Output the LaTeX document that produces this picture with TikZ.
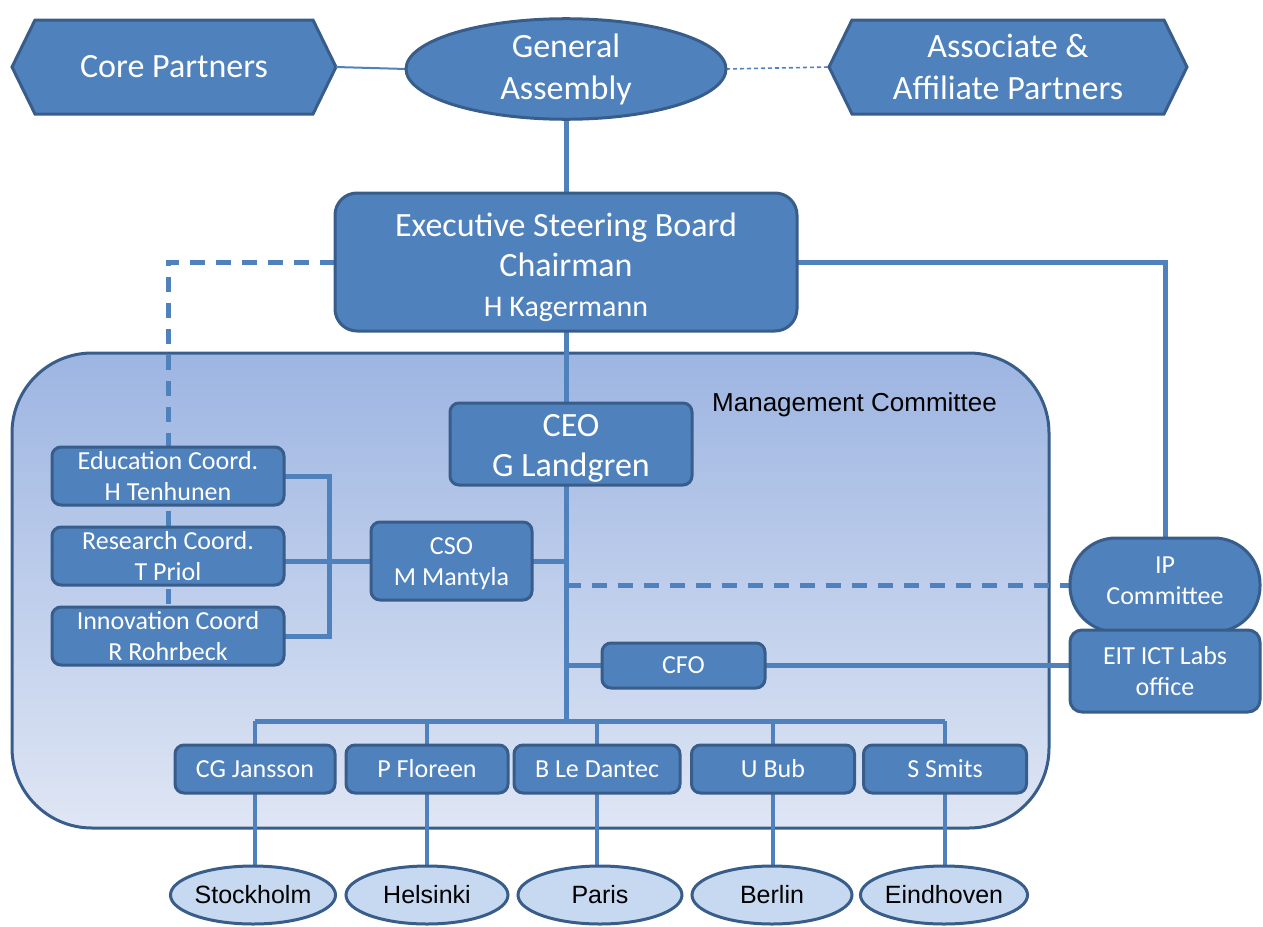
\documentclass[tikz,border=0pt]{standalone}
\usepackage{fontspec}
\setmainfont{Carlito}
\newfontfamily\arialf{Liberation Sans}
\usetikzlibrary{shapes.geometric,calc}
\definecolor{boxfill}{HTML}{4F81BD}
\definecolor{boxline}{HTML}{385D8A}
\definecolor{connc}{HTML}{4F81BD}
\definecolor{cityfill}{HTML}{C6D9F1}
\definecolor{mgtop}{RGB}{157,181,226}
\definecolor{mgbot}{RGB}{223,230,244}
\pgfdeclarelayer{bgl}
\pgfdeclarelayer{conn}
\pgfsetlayers{bgl,conn,main}
\newcommand{\lowr}[2]{\raisebox{#1}[\height][\depth]{#2}}
\tikzset{
  basebox/.style={draw=boxline, line width=3pt, fill=boxfill, text=white, inner sep=0pt, outer sep=0pt, align=center},
  rbox/.style={basebox, rectangle, rounded corners=9pt},
  hexnode/.style={inner sep=0pt, outer sep=0pt, align=center, text=white, minimum height=94pt},
  hexdraw/.style={draw=boxline, line width=3pt, fill=boxfill, line join=miter},
  citynode/.style={draw=boxline, line width=3pt, fill=cityfill, ellipse, inner sep=0pt, outer sep=0pt, minimum width=160pt, minimum height=58pt, font=\arialf\fontsize{25}{28}\selectfont},
  conline/.style={draw=connc, line width=5pt},
  dashline/.style={draw=connc, line width=5pt, dash pattern=on 15pt off 11pt},
  bigf/.style={font=\fontsize{34}{42}\selectfont},
  midf/.style={font=\fontsize{26}{31}\selectfont},
  botbox/.style={rbox, midf, minimum height=48pt},
}
\begin{document}
\begin{tikzpicture}[x=1pt,y=-1pt]
\useasboundingbox (0,0) rectangle (1263,926);
% management committee background
\begin{pgfonlayer}{bgl}
\node[draw=boxline, line width=3pt, top color=mgtop, bottom color=mgbot, rounded corners=80pt, minimum width=1037pt, minimum height=475pt, inner sep=0pt] (mc) at (530.5,590.5) {};
\end{pgfonlayer}
\node[font=\arialf\fontsize{26}{30}\selectfont, anchor=west, inner sep=0pt] (mclabel) at (712,405) {Management Committee};

% top row
\node[hexnode, bigf, minimum width=324pt] (core) at (174,67) {Core Partners};
\node[hexnode, bigf, minimum width=358pt] (assoc) at (1008,67) {Associate \&\\Affiliate Partners};
\begin{pgfonlayer}{conn}
\draw[hexdraw] (core.west) -- ($(core.north west)+(23,0)$) -- ($(core.north east)+(-23,0)$) -- (core.east) -- ($(core.south east)+(-23,0)$) -- ($(core.south west)+(23,0)$) -- cycle;
\draw[hexdraw] (assoc.west) -- ($(assoc.north west)+(23,0)$) -- ($(assoc.north east)+(-23,0)$) -- (assoc.east) -- ($(assoc.south east)+(-23,0)$) -- ($(assoc.south west)+(23,0)$) -- cycle;
\end{pgfonlayer}
\node[basebox, ellipse, bigf, minimum width=320pt, minimum height=94pt] (ga) at (566,69) {General\\Assembly};

\node[rbox, rounded corners=22pt, minimum width=462pt, minimum height=138pt, font=\fontsize{34}{40}\selectfont] (esb) at (566,262) {\lowr{-5pt}{Executive Steering Board}\\\lowr{-5pt}{Chairman}\\\lowr{-5pt}{\fontsize{30}{36}\selectfont H Kagermann}};

\node[rbox, minimum width=242pt, minimum height=82pt, font=\fontsize{34}{40}\selectfont] (ceo) at (571,444) {\lowr{-4pt}{CEO}\\\lowr{-4pt}{G Landgren}};

\node[rbox, midf, minimum width=161pt, minimum height=78pt] (cso) at (451.5,561) {\lowr{-3pt}{CSO}\\\lowr{-3pt}{M Mantyla}};
\node[rbox, midf, minimum width=232pt, minimum height=58pt] (edu) at (168,476) {Education Coord.\\H Tenhunen};
\node[rbox, midf, minimum width=232pt, minimum height=58pt] (res) at (168,556) {Research Coord.\\T Priol};
\node[rbox, midf, minimum width=232pt, minimum height=58pt] (inn) at (168,636) {Innovation Coord\\R Rohrbeck};

\node[basebox, rectangle, rounded corners=46pt, midf, minimum width=190pt, minimum height=94pt] (ip) at (1165,585) {\lowr{4pt}{IP}\\\lowr{4pt}{Committee}};
\node[rbox, rounded corners=12pt, midf, minimum width=190pt, minimum height=82pt] (eit) at (1165,671) {EIT ICT Labs\\office};
\node[rbox, midf, minimum width=163pt, minimum height=45pt] (cfo) at (683.5,665.5) {CFO};

\node[botbox, minimum width=160pt] (b1) at (255,769) {CG Jansson};
\node[botbox, minimum width=162pt] (b2) at (427,769) {P Floreen};
\node[botbox, minimum width=166pt] (b3) at (597,769) {B Le Dantec};
\node[botbox, minimum width=163pt] (b4) at (773,769) {U Bub};
\node[botbox, minimum width=163pt] (b5) at (945,769) {S Smits};

\node[citynode] (c1) at (253,895) {Stockholm};
\node[citynode, minimum width=162pt] (c2) at (427,895) {Helsinki};
\node[citynode, minimum width=164pt] (c3) at (600,895) {Paris};
\node[citynode] (c4) at (772,895) {Berlin};
\node[citynode, minimum width=164pt] (c5) at (944,895) {Eindhoven};

\coordinate (dl) at (168,262);
\coordinate (brk) at (329,561);
\coordinate (bus) at (566,721);

\begin{pgfonlayer}{conn}
\draw[draw=connc, line width=2pt] (core.east) -- (ga.west);
\draw[draw=connc, line width=1.6pt, dash pattern=on 4pt off 3pt] (ga.east) -- (assoc.west);
\draw[conline] (ga.south) -- (esb.north);
\draw[dashline] (esb.west) -- (dl) -- (inn.north);
\draw[conline] (esb.east) -| (ip.north);
\draw[conline] (esb.south) -- (esb.south |- ceo.north);
\draw[conline] (esb.south |- ceo.south) -- (bus);
\draw[conline] (edu.east) -| (brk) |- (inn.east);
\draw[conline] (cso.west -| res.east) -- (cso.west);
\draw[conline] (cso.east) -- (cso.east -| bus);
\draw[dashline] (ip.west -| bus) -- (ip.west);
\draw[conline] (cfo.west -| bus) -- (cfo.west);
\draw[conline] (cfo.east) -- (cfo.east -| eit.west);
\draw[conline] (b1.north |- bus) -- (b5.north |- bus);
\foreach \i in {1,...,5}{
  \draw[draw=connc, line width=4pt] (b\i.north |- bus) -- (b\i.north);
  \draw[draw=connc, line width=4pt] (b\i.south) -- (b\i.south |- c\i.north);
}
\end{pgfonlayer}
\end{tikzpicture}
\end{document}
